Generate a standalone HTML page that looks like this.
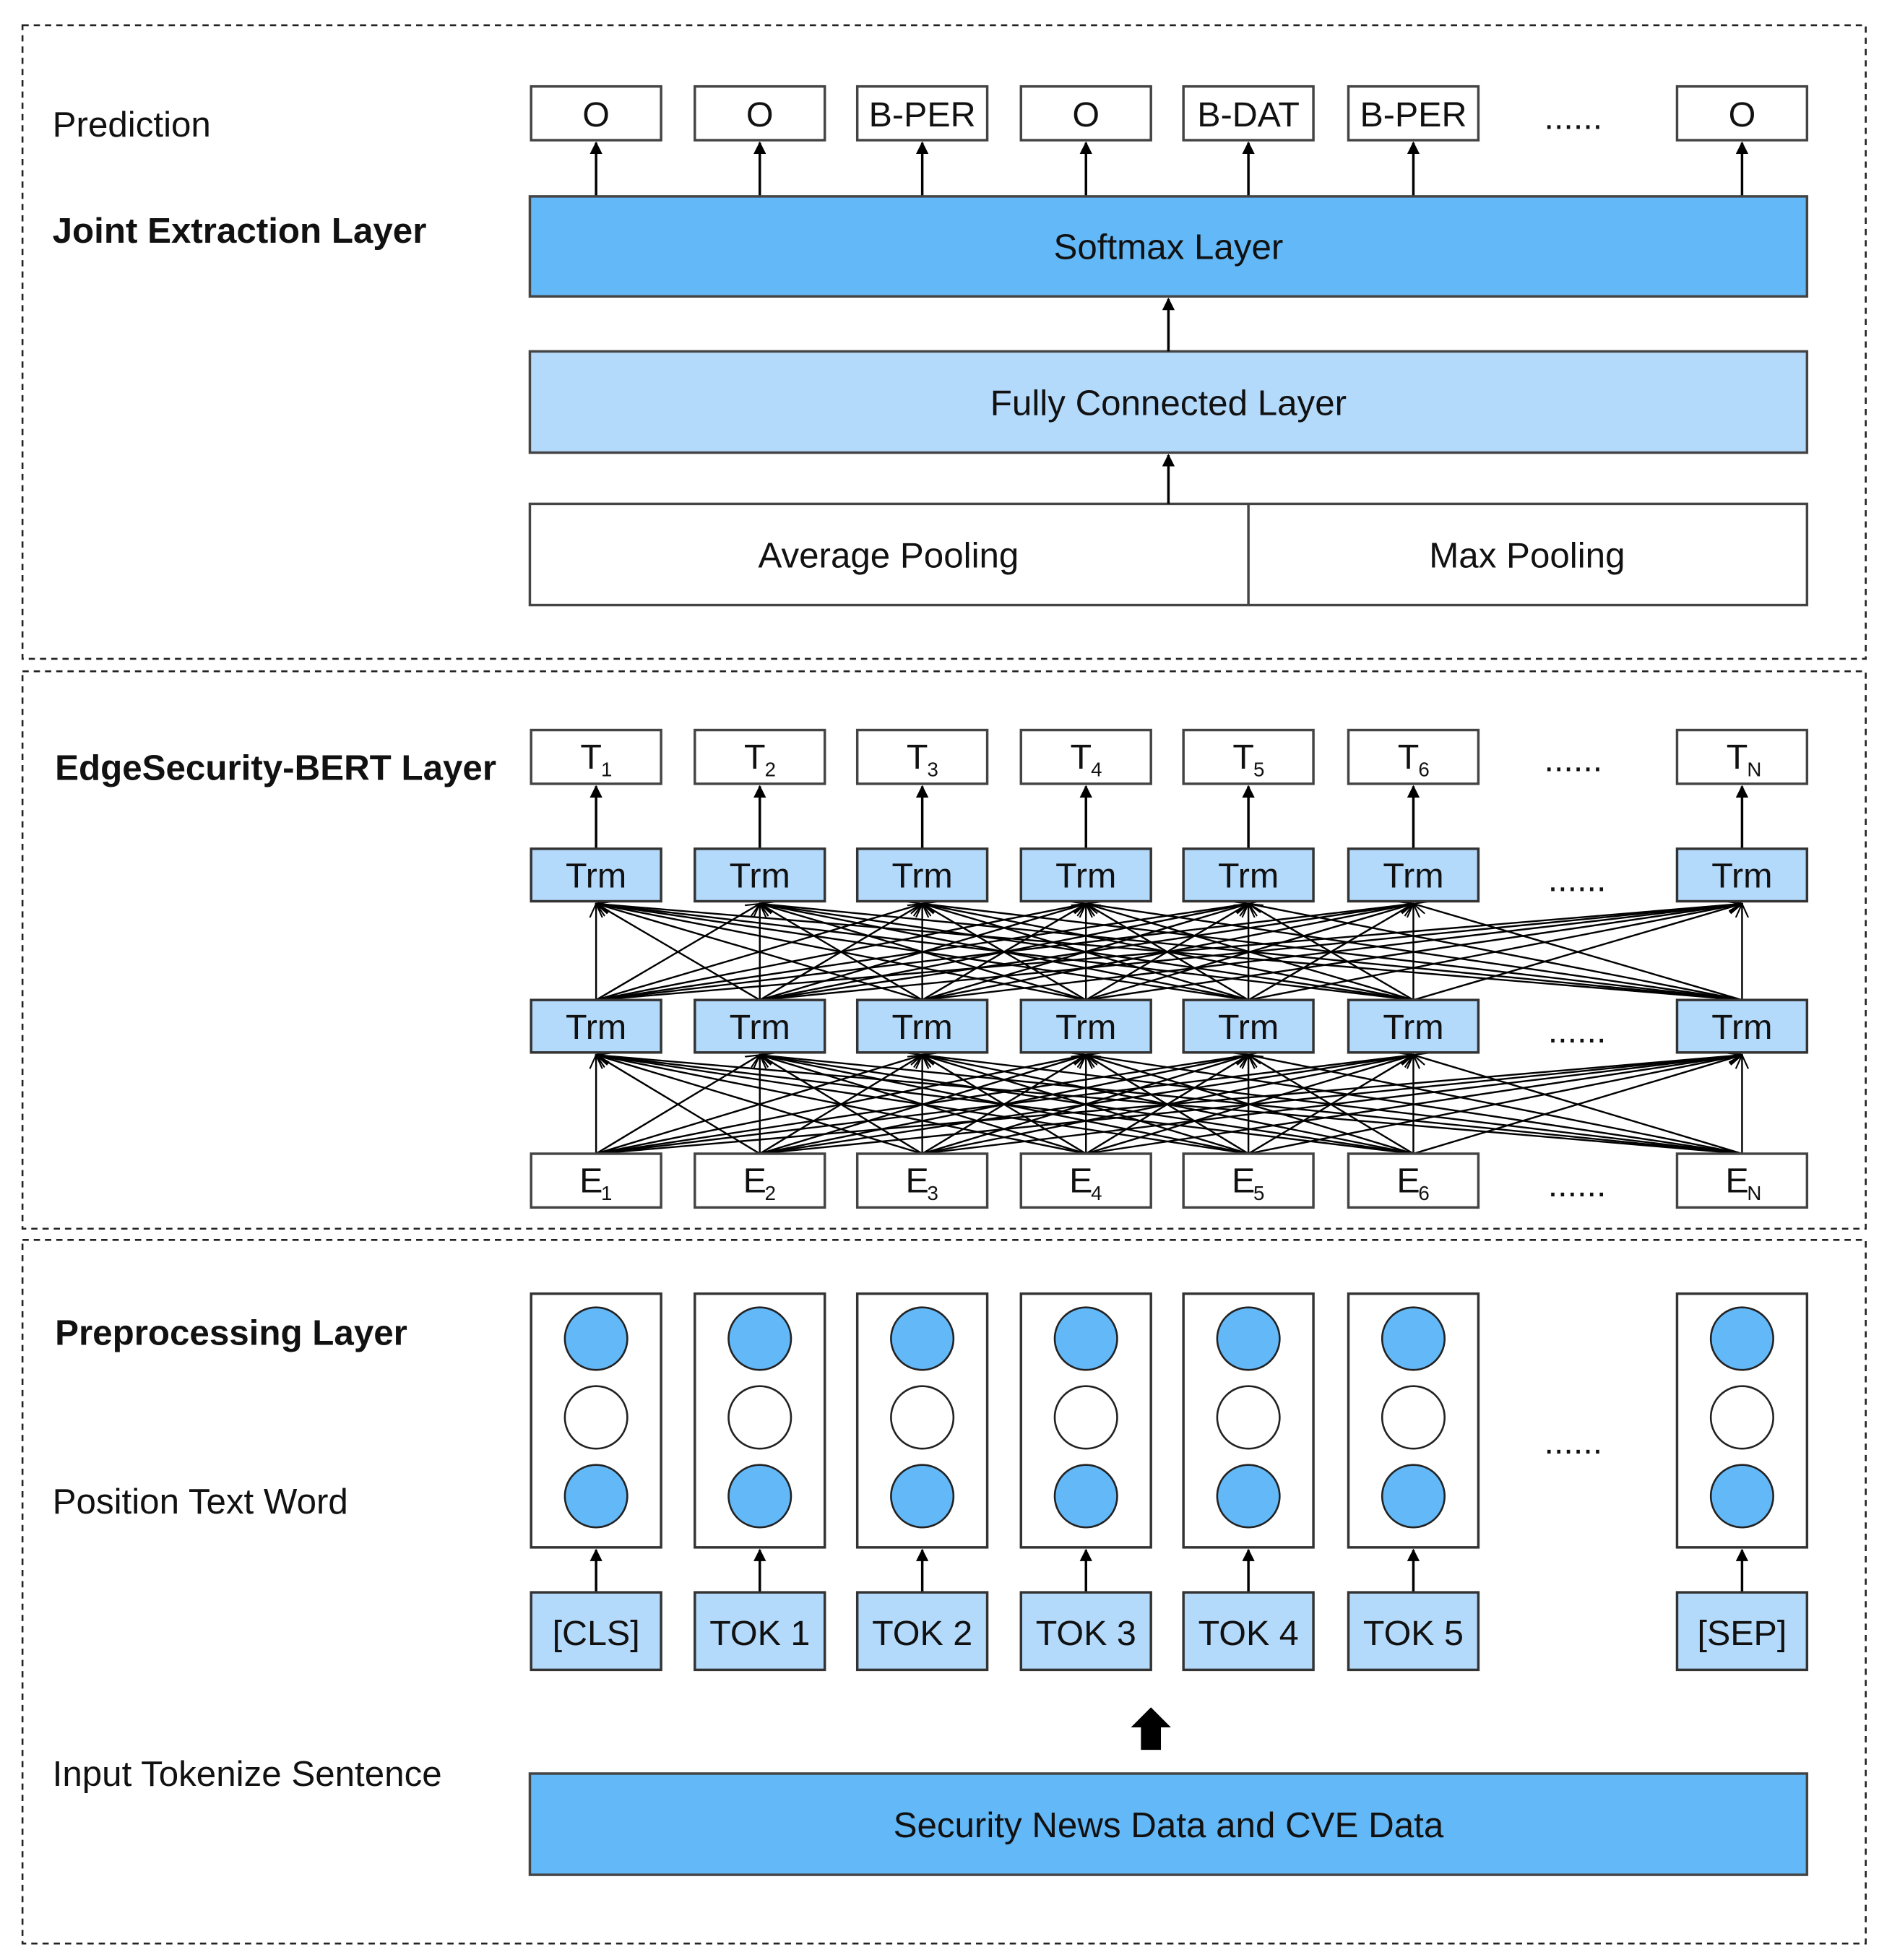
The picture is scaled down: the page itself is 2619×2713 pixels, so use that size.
<!DOCTYPE html>
<html><head><meta charset="utf-8"><style>
html,body{margin:0;padding:0;background:#fff}
svg{display:block}
text{font-family:"Liberation Sans",Arial,sans-serif;fill:#111}
</style></head><body>
<svg id="s" width="2619" height="2713" viewBox="0 0 1514 1568" xmlns="http://www.w3.org/2000/svg">
<defs>
<marker id="a" markerWidth="10" markerHeight="10" refX="9" refY="5" orient="auto" markerUnits="userSpaceOnUse"><path d="M0,0 L10,5 L0,10 z" fill="#000"/></marker>
<marker id="b" markerWidth="12" markerHeight="12" refX="11" refY="6" orient="auto" markerUnits="userSpaceOnUse"><path d="M0,1 L11,6 L0,11" fill="none" stroke="#000" stroke-width="1.2"/></marker>
</defs>
<g fill="none" stroke="#222" stroke-width="1.5" stroke-dasharray="5,4">
<rect x="18" y="20" width="1475" height="507"/>
<rect x="18" y="537" width="1475" height="446"/>
<rect x="18" y="992" width="1475" height="563"/>
</g>
<g font-size="28.5">
<text x="42" y="109">Prediction</text>
<text x="42" y="194" font-weight="bold">Joint Extraction Layer</text>
<text x="44" y="624" font-weight="bold">EdgeSecurity-BERT Layer</text>
<text x="44" y="1076" font-weight="bold">Preprocessing Layer</text>
<text x="42" y="1211">Position Text Word</text>
<text x="42" y="1429">Input Tokenize Sentence</text>
</g>
<g id="g"></g>
<g stroke="#444" stroke-width="2">
<rect x="424" y="157" width="1022" height="80" fill="#63b8f8"/>
<rect x="424" y="281" width="1022" height="81" fill="#b3d9fb"/>
<rect x="424" y="403" width="1022" height="81" fill="#fff"/>
<line x1="999" y1="403" x2="999" y2="484"/>
<rect x="424" y="1419" width="1022" height="81" fill="#63b8f8"/>
</g>
<g font-size="28.5" text-anchor="middle">
<text x="935" y="207">Softmax Layer</text>
<text x="935" y="332">Fully Connected Layer</text>
<text x="711" y="454">Average Pooling</text>
<text x="1222" y="454">Max Pooling</text>
<text x="935" y="1470">Security News Data and CVE Data</text>
</g>
<g stroke="#000" stroke-width="2" marker-end="url(#a)">
<line x1="935" y1="281" x2="935" y2="239"/>
<line x1="935" y1="403" x2="935" y2="364"/>
</g>
<path d="M921,1366 L937,1382 L929,1382 L929,1400 L913,1400 L913,1382 L905,1382 Z" fill="#000"/>
<g font-size="28" text-anchor="middle">
<text x="1259" y="103">......</text>
<text x="1259" y="617">......</text>
<text x="1262" y="713">......</text>
<text x="1262" y="834">......</text>
<text x="1262" y="957">......</text>
<text x="1259" y="1163">......</text>
</g>
</svg>
<script>
var NS="http://www.w3.org/2000/svg",g=document.getElementById("g");
function el(t,a,txt){var e=document.createElementNS(NS,t);for(var k in a)e.setAttribute(k,a[k]);if(txt!=null)e.textContent=txt;g.appendChild(e);return e;}
var cx=[477,608,738,869,999,1131,1394];
var pred=["O","O","B-PER","O","B-DAT","B-PER","O"];
var sub=["1","2","3","4","5","6","N"];
var tok=["[CLS]","TOK 1","TOK 2","TOK 3","TOK 4","TOK 5","[SEP]"];
[[923,843],[800,722]].forEach(function(r){
 cx.forEach(function(s){cx.forEach(function(t){
  el("line",{x1:s,y1:r[0],x2:t,y2:r[1]+1,stroke:"#000","stroke-width":1.4,"marker-end":"url(#b)"});
 });});
});
cx.forEach(function(c,i){
 el("line",{x1:c,y1:157,x2:c,y2:114,stroke:"#000","stroke-width":2,"marker-end":"url(#a)"});
 el("rect",{x:c-52,y:69,width:104,height:43,fill:"#fff",stroke:"#444","stroke-width":2});
 el("text",{x:c,y:101,"font-size":28,"text-anchor":"middle"},pred[i]);
 el("line",{x1:c,y1:679,x2:c,y2:629,stroke:"#000","stroke-width":2,"marker-end":"url(#a)"});
 el("rect",{x:c-52,y:584,width:104,height:43,fill:"#fff",stroke:"#444","stroke-width":2});
 el("text",{x:c-4,y:615,"font-size":28,"text-anchor":"middle"},"T");
 [679,800].forEach(function(y){
  el("rect",{x:c-52,y:y,width:104,height:42,fill:"#b3d9fb",stroke:"#333","stroke-width":2});
  el("text",{x:c,y:y+31,"font-size":28,"text-anchor":"middle"},"Trm");
 });
 el("rect",{x:c-52,y:923,width:104,height:43,fill:"#fff",stroke:"#444","stroke-width":2});
 el("text",{x:c-4,y:954,"font-size":28,"text-anchor":"middle"},"E");
 el("text",{x:c+4,y:960,"font-size":16},sub[i]);
 el("text",{x:c+4,y:621,"font-size":16},sub[i]);
 el("rect",{x:c-52,y:1035,width:104,height:203,fill:"#fff",stroke:"#333","stroke-width":2});
 [[1071,"#63b8f8"],[1134,"#fff"],[1197,"#63b8f8"]].forEach(function(q){
  el("circle",{cx:c,cy:q[0],r:25,fill:q[1],stroke:"#222","stroke-width":1.5});
 });
 el("line",{x1:c,y1:1274,x2:c,y2:1240,stroke:"#000","stroke-width":2,"marker-end":"url(#a)"});
 el("rect",{x:c-52,y:1274,width:104,height:62,fill:"#b3d9fb",stroke:"#333","stroke-width":2});
 el("text",{x:c,y:1316,"font-size":28,"text-anchor":"middle"},tok[i]);
});
</script>
</body></html>
